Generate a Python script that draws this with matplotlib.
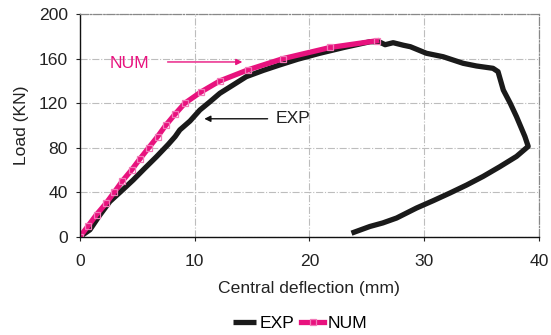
import numpy as np
import matplotlib
matplotlib.use('agg')
import matplotlib.pyplot as plt

plt.rcParams['font.family'] = ['Liberation Sans', 'DejaVu Sans']

# numerical curve (markers at each load step)
num_x = [0, 0.73, 1.45, 2.27, 2.99, 3.69, 4.5, 5.23, 6.0, 6.77, 7.47, 8.28, 9.15,
         10.54, 12.2, 14.67, 17.7, 21.8, 25.85]
num_y = [0, 10, 20, 30, 40, 50, 60, 70, 80, 90, 100, 110, 120,
         130, 140, 150, 160, 170, 176]

# experimental curve
exp_x = [0, 0.87, 1.7, 2.61, 3.6, 4.65, 5.6, 6.68, 7.7, 8.3, 8.71, 9.6, 10.46, 11.3,
         12.2, 13.3, 14.5, 16.0, 17.4, 19.0, 20.9, 23.0, 25.3, 26.1, 26.6, 27.3,
         28.2, 28.8, 30.2, 31.66, 33.4, 34.56, 36.0, 36.44, 36.9, 37.5, 38.05, 38.78,
         39.07, 38.05, 36.6, 35.15, 33.7, 32.24, 30.8, 29.34, 27.6, 26.4, 25.27, 23.67]
exp_y = [0, 6.3, 19, 31.7, 41, 51.1, 61, 72, 83, 90, 96, 104, 113.9, 121,
         128.9, 136, 143.8, 149.5, 154.3, 159.5, 164.8, 170, 175.2, 175, 172.5, 174.3,
         172, 170.7, 164.8, 161.7, 155.8, 153.4, 151.3, 148.3, 131.8, 120, 107.9, 90.1,
         81.2, 72.2, 63, 54.3, 46.5, 39.3, 32.5, 25.9, 16.9, 12.5, 9.3, 3.3]

pink = '#E8127E'
fs = 12.6

fig = plt.figure(figsize=(5.51, 3.35), dpi=100)
ax = fig.add_axes([0.145, 0.293, 0.833, 0.665])

ax.plot(exp_x, exp_y, color='#1a1a1a', lw=3.8, label='EXP', solid_capstyle='butt')
ax.plot(num_x, num_y, color=pink, lw=3.8, marker='s', ms=5, mfc='none',
        mec='#F27AB8', mew=0.9, label='NUM')

ax.set_xlim(0, 40)
ax.set_ylim(0, 200)
ax.set_xticks([0, 10, 20, 30, 40])
ax.set_yticks([0, 40, 80, 120, 160, 200])
ax.grid(True, color='#BDBDBD', ls='-.', lw=0.8)
ax.tick_params(direction='out', length=3, labelsize=fs, colors='#222222')
ax.tick_params(axis='x', pad=9)
ax.tick_params(axis='y', pad=5.5)
for s in ['top', 'right']:
    ax.spines[s].set_linestyle('-.')
    ax.spines[s].set_color('#888888')
    ax.spines[s].set_linewidth(0.9)
for s in ['left', 'bottom']:
    ax.spines[s].set_color('#111111')
    ax.spines[s].set_linewidth(1.0)

ax.set_xlabel('Central deflection (mm)', fontsize=fs, color='#222222', labelpad=9)
ax.set_ylabel('Load (KN)', fontsize=fs, color='#222222', labelpad=7)

ax.annotate('', xy=(14.4, 157), xytext=(7.4, 157),
            arrowprops=dict(arrowstyle='-|>', color=pink, lw=1.0, mutation_scale=9))
ax.text(4.36, 155.5, 'NUM', color=pink, fontsize=fs, ha='center', va='center')
ax.annotate('', xy=(10.6, 106), xytext=(16.6, 106),
            arrowprops=dict(arrowstyle='-|>', color='#111111', lw=1.0, mutation_scale=9))
ax.text(17.1, 106.5, 'EXP', color='#222222', fontsize=fs, ha='left', va='center')

fig.legend(loc='lower center', bbox_to_anchor=(0.545, -0.035), ncol=2, frameon=False,
           fontsize=fs, handlelength=1.3, handletextpad=0.2, columnspacing=0.4)

fig.savefig('out.png', dpi=100)
